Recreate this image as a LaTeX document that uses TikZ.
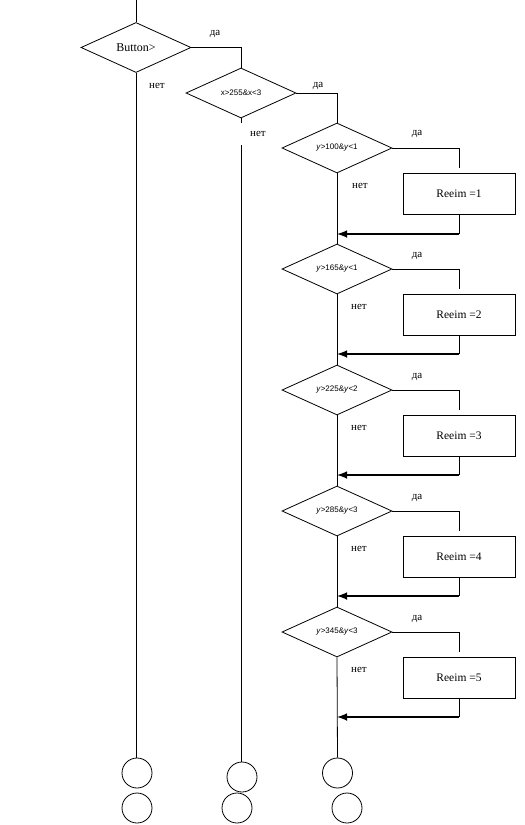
\documentclass[tikz,border=0pt]{standalone}
\usepackage{fontspec}
\setmainfont{Liberation Serif}
\setsansfont{Liberation Sans}
\usetikzlibrary{shapes.geometric}

\begin{document}
\begin{tikzpicture}[x=1pt,y=-1pt,line width=.8pt,
	cond/.style={draw,diamond,inner sep=0pt,minimum width=110pt,minimum height=50pt,font=\sffamily\fontsize{8}{9}\selectfont},
	act/.style={draw,rectangle,minimum width=112pt,minimum height=41pt,font=\fontsize{11.5}{13}\selectfont},
	term/.style={draw,circle,minimum size=30pt,inner sep=0pt},
	lbl/.style={font=\fontsize{11}{13}\selectfont},
	back/.style={line width=2.4pt,-latex}]
	\useasboundingbox (0,0) rectangle (525,825);
	% end circles
		\node[term] (t1a) at (137,773) {};
		\node[term] (t1b) at (137,808) {};
		\node[term] (t2a) at (242,777) {};
		\node[term] (t2b) at (237,808) {};
		\node[term] (t3a) at (337.5,773) {};
		\node[term] (t3b) at (347,808) {};
	% first check
		\coordinate (start) at (136,0);
		\node[cond,font=\fontsize{12}{14}\selectfont] (c0) at (136,47.5) {Button>};
		\draw (start) -- (c0.north);
		\node[lbl] (da0) at (215,34) {да};
		\node[lbl] (net0) at (157,86) {нет};
		\draw (c0.south) -- (c0.south |- t1a.north);
	% second check
		\node[cond] (c1) at (241,93) {x>255\&x<3};
		\draw (c0.east) -| (c1.north);
		\node[lbl] (da1) at (318,86) {да};
		\node[lbl] (net1) at (258,134) {нет};
		\coordinate (gap1) at (241,145);
		\draw (c1.south) -- ++(0,5);
		\draw (gap1) -- (gap1 |- t2a.north);
	% mode 1
		\node[cond] (c2) at (337,148) {\textit{y}>100\&\textit{y}<1};
		\draw (c1.east) -| (c2.north);
		\node[lbl] (da2) at (417,134) {да};
		\node[lbl] (net2) at (360,186) {нет};
		\node[act] (r1) at (459,193.5) {Reeim =1};
		\draw (c2.east) -| ([yshift=5pt]r1.north);
		\coordinate (m1) at (337,234);
		\draw (r1.south) -- (r1.south |- m1);
		\draw[back] (r1.south |- m1) -- (m1);
	% mode 2
		\node[cond] (c3) at (337,269) {\textit{y}>165\&\textit{y}<1};
		\draw (c2.south) -- (c3.north);
		\node[lbl] (da3) at (417,256) {да};
		\node[lbl] (net3) at (359,307) {нет};
		\node[act] (r2) at (459,314.5) {Reeim =2};
		\draw (c3.east) -| ([yshift=5pt]r2.north);
		\coordinate (m2) at (337,354);
		\draw (r2.south) -- (r2.south |- m2);
		\draw[back] (r2.south |- m2) -- (m2);
	% mode 3
		\node[cond] (c4) at (337,390) {\textit{y}>225\&\textit{y}<2};
		\draw (c3.south) -- (c4.north);
		\node[lbl] (da4) at (417,377) {да};
		\node[lbl] (net4) at (359,428) {нет};
		\node[act] (r3) at (459,435.5) {Reeim =3};
		\draw (c4.east) -| ([yshift=5pt]r3.north);
		\coordinate (m3) at (337,475);
		\draw (r3.south) -- (r3.south |- m3);
		\draw[back] (r3.south |- m3) -- (m3);
	% mode 4
		\node[cond] (c5) at (337,511) {\textit{y}>285\&\textit{y}<3};
		\draw (c4.south) -- (c5.north);
		\node[lbl] (da5) at (417,498) {да};
		\node[lbl] (net5) at (359,549) {нет};
		\node[act] (r4) at (459,556.5) {Reeim =4};
		\draw (c5.east) -| ([yshift=5pt]r4.north);
		\coordinate (m4) at (337,596);
		\draw (r4.south) -- (r4.south |- m4);
		\draw[back] (r4.south |- m4) -- (m4);
	% mode 5
		\node[cond] (c6) at (337,632) {\textit{y}>345\&\textit{y}<3};
		\draw (c5.south) -- (c6.north);
		\node[lbl] (da6) at (417,619) {да};
		\node[lbl] (net6) at (359,670) {нет};
		\node[act] (r5) at (459,677.5) {Reeim =5};
		\draw (c6.east) -| ([yshift=5pt]r5.north);
		\coordinate (m5) at (337,717);
		\draw (r5.south) -- (r5.south |- m5);
		\draw[back] (r5.south |- m5) -- (m5);
		\draw (c6.south) -- (t3a.north);
\end{tikzpicture}
\end{document}
